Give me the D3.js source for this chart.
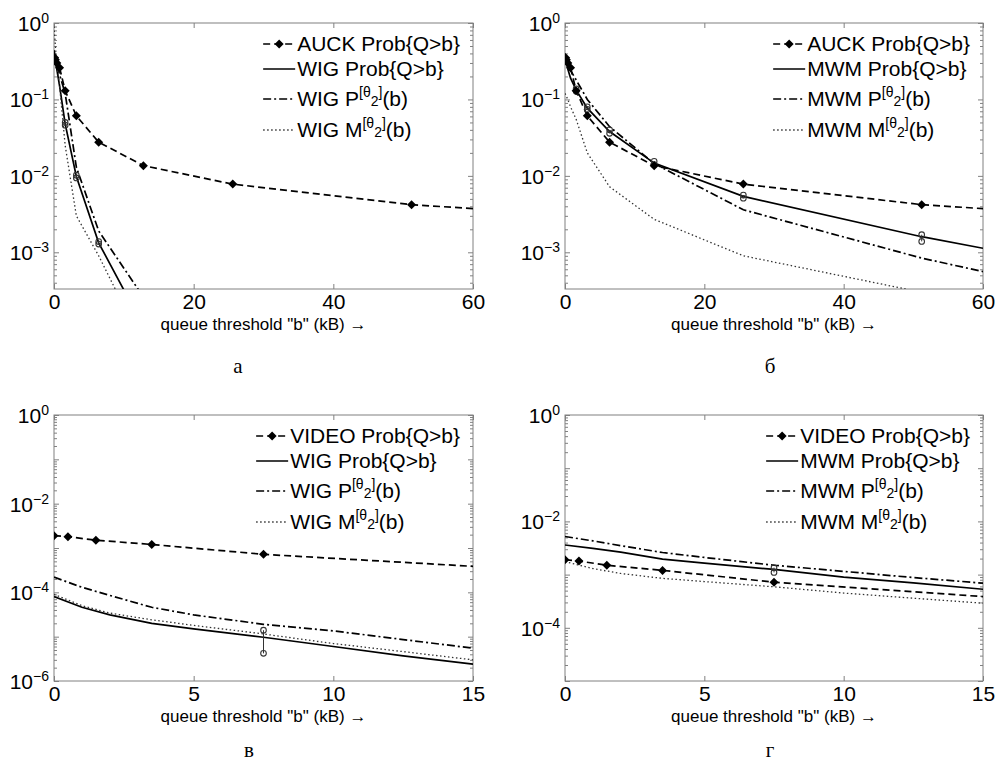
<!DOCTYPE html>
<html><head><meta charset="utf-8">
<script src="https://cdn.jsdelivr.net/npm/d3@7"></script>
<style>body{margin:0;background:#fff}</style>
</head><body>
<svg id="chart" width="997" height="764"></svg>
<script>
// ---------- tick labels ----------
const xTicksTop = [0, 20, 40, 60];
const xTicksBottom = [0, 5, 10, 15];
const yExpTop = [0, -1, -2, -3];
const yExpC = [0, -2, -4, -6];
const yExpD = [0, -2, -4];
const panelLetters = ["а", "б", "в", "г"];
const axisTitle = "queue threshold \"b\" (kB) \u2192";

// ---------- legends ----------
const legendA = ["AUCK Prob{Q>b}", "WIG Prob{Q>b}", "WIG P", "WIG M"];
const legendB = ["AUCK Prob{Q>b}", "MWM Prob{Q>b}", "MWM P", "MWM M"];
const legendC = ["VIDEO Prob{Q>b}", "WIG Prob{Q>b}", "WIG P", "WIG M"];
const legendD = ["VIDEO Prob{Q>b}", "MWM Prob{Q>b}", "MWM P", "MWM M"];

// ---------- AUCK trace (panels a, b) ----------
const auckX = [0.1, 0.2, 0.4, 0.8, 1.6, 3.2, 6.4, 12.8, 25.6, 51.2, 102.4];
const auckY = [0.35, 0.33, 0.30, 0.26, 0.13, 0.061, 0.0276, 0.0136, 0.0078, 0.0042, 0.0021];

// ---------- panel a: WIG models ----------
const wigAX = [0, 0.2, 0.4, 0.8, 1.6, 3.2, 6.4, 12.8];
const wigProbA = [0.35, 0.30, 0.25, 0.15, 0.048, 0.0098, 0.00133, 0.000107];
const wigPA = [0.44, 0.36, 0.30, 0.21, 0.12, 0.013, 0.0019, 0.00026];
const wigMA = [0.9, 0.5, 0.3, 0.15, 0.025, 0.003, 0.0009, 0.00006];
const ciA = [[1.6, 0.046, 0.050], [3.2, 0.0094, 0.0102], [6.4, 0.00128, 0.00138]];

// ---------- panel b: MWM models ----------
const mwmBX = [0, 0.2, 0.4, 0.8, 1.6, 3.2, 6.4, 12.8, 25.6, 51.2, 60];
const mwmProbB = [0.35, 0.30, 0.25, 0.19, 0.133, 0.077, 0.038, 0.0147, 0.0054, 0.0016, 0.00113];
const mwmPB = [0.40, 0.34, 0.30, 0.24, 0.18, 0.10, 0.044, 0.0145, 0.0036, 0.00084, 0.00056];
const mwmMB = [0.12, 0.11, 0.10, 0.08, 0.055, 0.02, 0.0072, 0.0027, 0.0009, 0.0003, 0.00022];
const ciB = [[1.6, 0.128, 0.138], [3.2, 0.074, 0.080], [6.4, 0.036, 0.040], [12.8, 0.014, 0.0155], [25.6, 0.0051, 0.0056], [51.2, 0.00139, 0.0017]];

// ---------- VIDEO trace (panels c, d) ----------
const videoX = [0, 0.5, 1.5, 3.5, 7.5, 15.5];
const videoY = [1.9e-3, 1.8e-3, 1.5e-3, 1.2e-3, 7.2e-4, 3.7e-4];

// ---------- panel c: WIG models ----------
const modelCX = [0, 1, 2, 3.5, 5, 7.5, 10, 12.5, 15];
const wigProbC = [8e-5, 4.6e-5, 3.1e-5, 2.0e-5, 1.5e-5, 9.7e-6, 6.0e-6, 3.7e-6, 2.4e-6];
const wigPC = [2.2e-4, 1.3e-4, 8.5e-5, 4.6e-5, 3.1e-5, 1.9e-5, 1.35e-5, 8.6e-6, 5.5e-6];
const wigMC = [9e-5, 5e-5, 3.4e-5, 2.4e-5, 1.8e-5, 1.15e-5, 7e-6, 4.6e-6, 3e-6];
const ciC = [[7.5, 4.2e-6, 1.4e-5]];

// ---------- panel d: MWM models ----------
const modelDX = [0, 1, 2, 3.5, 5, 7.5, 10, 12.5, 15];
const mwmProbD = [3.6e-3, 3.1e-3, 2.65e-3, 1.95e-3, 1.65e-3, 1.25e-3, 9e-4, 7e-4, 5.3e-4];
const mwmPD = [5.2e-3, 4.3e-3, 3.5e-3, 2.6e-3, 2.1e-3, 1.5e-3, 1.15e-3, 8.8e-4, 6.9e-4];
const mwmMD = [1.75e-3, 1.3e-3, 1.05e-3, 8.5e-4, 7.4e-4, 5.9e-4, 4.5e-4, 3.6e-4, 2.9e-4];
const ciD = [[7.5, 1.1e-3, 1.35e-3]];

// ---------- drawing ----------
const svg = d3.select("#chart");
const SANS = '"Liberation Sans", Arial, Helvetica, sans-serif';
const SERIF = '"Liberation Serif", "Times New Roman", serif';
const styleDash = {solid: null, dashed: "7,4", dashdot: "8,3,2,3", dotted: "1.5,2.5"};
const zip = (xs, ys) => xs.map((v, i) => [v, ys[i]]);

const panels = [
  {id: "a", left: 54, right: 473, top: 23, bottom: 289, xDomain: [0, 60], xTicks: xTicksTop,
   yDomain: [Math.pow(10, -3.48), 1], yExp: yExpTop, legend: legendA, letter: panelLetters[0], lx: 238, ly: 373,
   series: [
     {data: zip(auckX, auckY), style: "dashed", marker: true},
     {data: zip(wigAX, wigProbA), style: "solid"},
     {data: zip(wigAX, wigPA), style: "dashdot"},
     {data: zip(wigAX, wigMA), style: "dotted"}], ci: ciA},
  {id: "b", left: 565, right: 983, top: 23, bottom: 289, xDomain: [0, 60], xTicks: xTicksTop,
   yDomain: [Math.pow(10, -3.48), 1], yExp: yExpTop, legend: legendB, letter: panelLetters[1], lx: 770, ly: 373,
   series: [
     {data: zip(auckX, auckY), style: "dashed", marker: true},
     {data: zip(mwmBX, mwmProbB), style: "solid"},
     {data: zip(mwmBX, mwmPB), style: "dashdot"},
     {data: zip(mwmBX, mwmMB), style: "dotted"}], ci: ciB},
  {id: "c", left: 54, right: 473, top: 415, bottom: 681, xDomain: [0, 15], xTicks: xTicksBottom,
   yDomain: [1e-6, 1], yExp: yExpC, legend: legendC, letter: panelLetters[2], lx: 249, ly: 757,
   series: [
     {data: zip(videoX, videoY), style: "dashed", marker: true},
     {data: zip(modelCX, wigProbC), style: "solid"},
     {data: zip(modelCX, wigPC), style: "dashdot"},
     {data: zip(modelCX, wigMC), style: "dotted"}], ci: ciC},
  {id: "d", left: 565, right: 983, top: 415, bottom: 681, xDomain: [0, 15], xTicks: xTicksBottom,
   yDomain: [1e-5, 1], yExp: yExpD, legend: legendD, letter: panelLetters[3], lx: 770, ly: 757,
   series: [
     {data: zip(videoX, videoY), style: "dashed", marker: true},
     {data: zip(modelDX, mwmProbD), style: "solid"},
     {data: zip(modelDX, mwmPD), style: "dashdot"},
     {data: zip(modelDX, mwmMD), style: "dotted"}], ci: ciD}
];

const diamond = r => `M0,${-r}L${r},0L0,${r}L${-r},0Z`;

function styleLine(sel, style) {
  sel.attr("fill", "none")
     .attr("stroke", style === "dotted" ? "#333" : "#000")
     .attr("stroke-width", style === "dotted" ? 1.3 : 1.7)
     .attr("stroke-dasharray", styleDash[style]);
}

function drawPanel(p) {
  const x = d3.scaleLinear().domain(p.xDomain).range([p.left, p.right]);
  const y = d3.scaleLog().domain(p.yDomain).range([p.bottom, p.top]);
  const g = svg.append("g");
  const clipId = "clip-" + p.id;
  svg.append("defs").append("clipPath").attr("id", clipId).append("rect")
    .attr("x", p.left).attr("y", p.top).attr("width", p.right - p.left).attr("height", p.bottom - p.top);

  // frame
  g.append("rect").attr("x", p.left).attr("y", p.top).attr("width", p.right - p.left).attr("height", p.bottom - p.top)
    .attr("fill", "#fff").attr("stroke", "#808080").attr("stroke-width", 1);

  // ticks
  const lo = Math.floor(Math.log10(p.yDomain[0]));
  const majors = [], minors = [];
  for (let d = lo; d <= 0; d++) {
    const v = Math.pow(10, d);
    if (v >= p.yDomain[0] * 0.999) majors.push(v);
    for (let k = 2; k <= 9; k++) { const m = k * v; if (m >= p.yDomain[0] && m < 1) minors.push(m); }
  }
  const tickStyle = s => { s.select(".domain").remove(); s.selectAll("line").attr("stroke", "#808080"); };
  g.append("g").attr("transform", `translate(0,${p.bottom})`)
    .call(d3.axisBottom(x).tickValues(p.xTicks).tickSize(-5).tickPadding(5).tickFormat(d3.format("d")))
    .call(tickStyle)
    .selectAll("text").attr("font-family", SANS).attr("font-size", 21).attr("fill", "#000");
  g.append("g").attr("transform", `translate(0,${p.top})`)
    .call(d3.axisTop(x).tickValues(p.xTicks).tickSize(-5).tickFormat("")).call(tickStyle);
  [[d3.axisLeft, p.left], [d3.axisRight, p.right]].forEach(([ax, pos]) => {
    g.append("g").attr("transform", `translate(${pos},0)`)
      .call(ax(y).tickValues(majors).tickSize(-5).tickFormat("")).call(tickStyle);
    g.append("g").attr("transform", `translate(${pos},0)`)
      .call(ax(y).tickValues(minors).tickSize(-3).tickFormat("")).call(tickStyle);
  });

  // y labels 10^e
  p.yExp.forEach(e => {
    const t = g.append("text").attr("x", p.left - 5).attr("y", y(Math.pow(10, e)) + 8)
      .attr("text-anchor", "end").attr("font-family", SANS).attr("font-size", 21).attr("fill", "#000");
    t.append("tspan").text("10");
    t.append("tspan").attr("font-size", 14).attr("dy", -8).text(e === 0 ? "0" : "\u2212" + Math.abs(e));
  });

  // series
  const line = d3.line().x(d => x(d[0])).y(d => y(d[1]));
  const plot = g.append("g").attr("clip-path", `url(#${clipId})`);
  p.series.forEach(s => {
    plot.append("path").attr("d", line(s.data)).call(styleLine, s.style);
  });
  // confidence circles
  p.ci.forEach(([cx, l, h]) => {
    plot.append("line").attr("x1", x(cx)).attr("x2", x(cx)).attr("y1", y(l)).attr("y2", y(h))
      .attr("stroke", "#333").attr("stroke-width", 1);
    [l, h].forEach(v => plot.append("circle").attr("cx", x(cx)).attr("cy", y(v)).attr("r", 2.8)
      .attr("fill", "none").attr("stroke", "#333").attr("stroke-width", 1.1));
  });
  p.series.filter(s => s.marker).forEach(s => {
    s.data.filter(d => d[0] <= p.xDomain[1]).forEach(d => {
      plot.append("path").attr("d", diamond(4.5)).attr("transform", `translate(${x(d[0])},${y(d[1])})`)
        .attr("fill", "#000");
    });
  });

  // legend
  const lg = g.append("g").attr("font-family", SANS).attr("font-size", 21).attr("fill", "#000");
  const rows = [21, 46, 76, 107];
  const texts = p.legend.map((lab, i) => {
    const t = lg.append("text").attr("y", p.top + rows[i] + 7);
    t.append("tspan").text(lab);
    if (i >= 2) {
      t.append("tspan").attr("font-size", 14).attr("dy", -9).text("[\u03b8");
      t.append("tspan").attr("font-size", 14).attr("dy", 9).text("2");
      t.append("tspan").attr("font-size", 14).attr("dy", -9).text("]");
      t.append("tspan").attr("dy", 9).text("(b)");
    }
    return t;
  });
  const maxW = d3.max(texts, t => t.node().getComputedTextLength());
  const tx = p.right - 13 - maxW;
  texts.forEach(t => t.attr("x", tx));
  p.series.forEach((s, i) => {
    const cy = p.top + rows[i];
    lg.append("line").attr("x1", tx - 34).attr("x2", tx - 2).attr("y1", cy).attr("y2", cy).call(styleLine, s.style);
    if (s.marker) lg.append("path").attr("d", diamond(4.5)).attr("transform", `translate(${tx - 18},${cy})`).attr("fill", "#000");
  });

  // axis title and panel letter
  svg.append("text").attr("x", (p.left + p.right) / 2).attr("y", p.bottom + 41).attr("text-anchor", "middle")
    .attr("font-family", SANS).attr("font-size", 17).attr("fill", "#000").text(axisTitle);
  svg.append("text").attr("x", p.lx).attr("y", p.ly).attr("text-anchor", "middle")
    .attr("font-family", SERIF).attr("font-size", 21).attr("fill", "#000").text(p.letter);
}

panels.forEach(drawPanel);
</script>
</body></html>
